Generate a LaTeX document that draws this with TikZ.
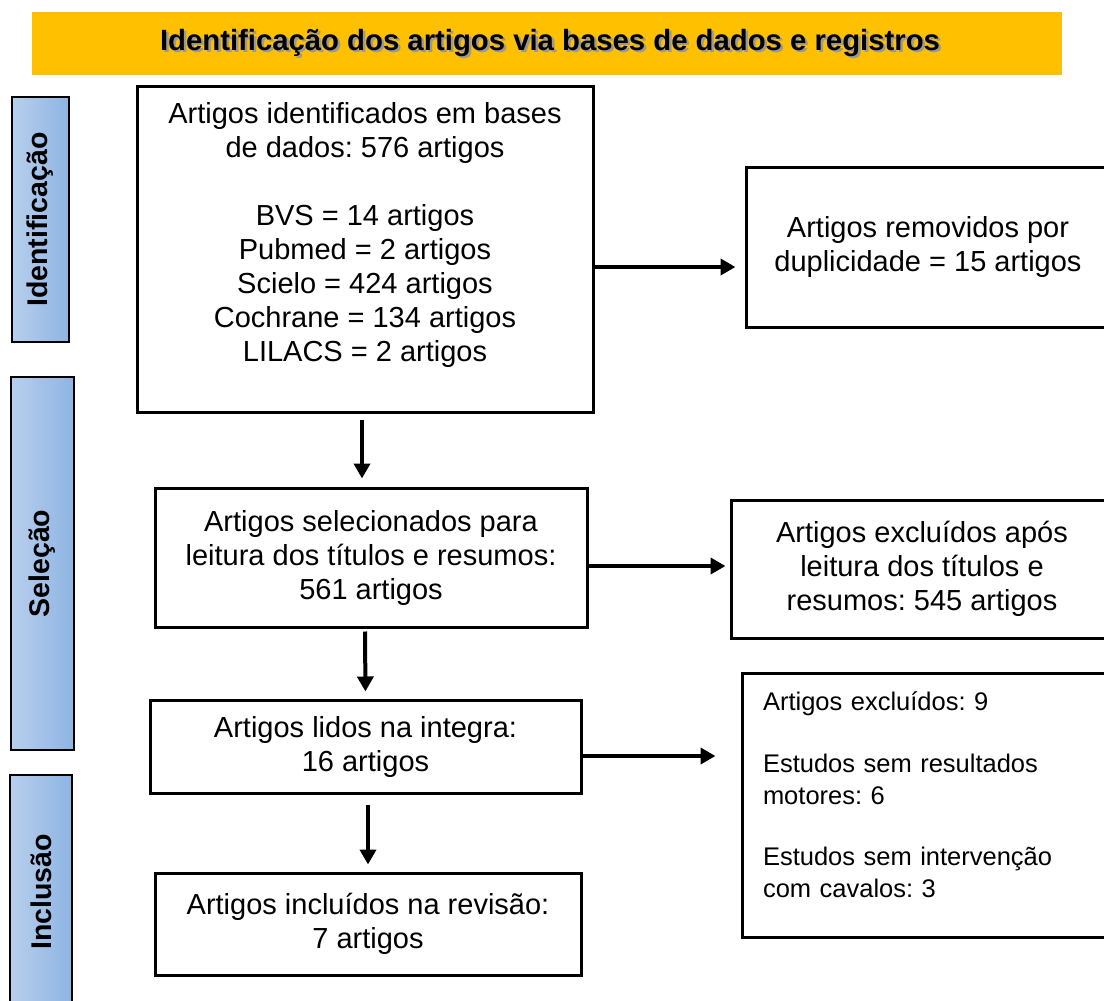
\documentclass[tikz,border=0pt]{standalone}
\usepackage{fontspec}
\setmainfont{Liberation Sans}
\usetikzlibrary{arrows.meta}
\frenchspacing
\definecolor{hdr}{RGB}{255,192,0}
\definecolor{sideL}{RGB}{184,207,236}
\definecolor{sideR}{RGB}{142,180,227}
\newcommand{\shadowtext}[1]{\makebox[0pt][l]{\hspace{2.5pt}\raisebox{-2.5pt}{\textcolor{black!40}{#1}}}#1}
\tikzset{
  box/.style={draw=black, line width=3pt, rectangle, align=center, inner sep=0pt,
    font=\fontsize{29}{34}\selectfont},
  side/.style={draw=black, line width=2pt, left color=sideL, right color=sideR},
  sidetext/.style={rotate=90, font=\bfseries\fontsize{28.5}{34}\selectfont},
  arr/.style={line width=4pt, -{Triangle[length=15pt,width=16pt]}},
}
\begin{document}
\begin{tikzpicture}[x=1pt,y=-1pt]
\frenchspacing
\useasboundingbox (0,0) rectangle (1104,1001);
% header
\node[fill=hdr, minimum width=1030pt, minimum height=63pt, inner sep=0pt] (hdr) at (547,43.5) {};
\node[font=\bfseries\fontsize{29.3}{34}\selectfont] (hdrt) at (550,44) {\shadowtext{Identificação dos artigos via bases de dados e registros}};
% side bars
\node[side, minimum width=57pt, minimum height=245pt, inner sep=0pt] (s1) at (40.5,219.5) {};
\node[sidetext] (s1t) at (s1) {Identificação};
\node[side, minimum width=63pt, minimum height=373pt, inner sep=0pt] (s2) at (42.5,563.5) {};
\node[sidetext] (s2t) at (s2) {Seleção};
\node[side, minimum width=62pt, minimum height=240pt, inner sep=0pt] (s3) at (41,895) {};
\node[sidetext] (s3t) at (41,892) {Inclusão};
% main boxes
\node[box, minimum width=456pt, minimum height=326pt] (b1) at (365,249)
  {Artigos identificados em bases\\ de dados: 576 artigos\\[34pt]
   BVS = 14 artigos\\ Pubmed = 2 artigos\\ Scielo = 424 artigos\\ Cochrane = 134 artigos\\ LILACS = 2 artigos\\ \mbox{}};
\node[box, minimum width=364pt, minimum height=160pt] (b2) at (928,247)
  {Artigos removidos por\\ duplicidade = 15 artigos};
\node[box, minimum width=432pt, minimum height=139pt] (b3) at (371,557.5)
  {Artigos selecionados para\\ leitura dos títulos e resumos:\\ 561 artigos};
\node[box, minimum width=382pt, minimum height=138pt] (b4) at (922,569)
  {Artigos excluídos após\\ leitura dos títulos e\\ resumos: 545 artigos};
\node[box, minimum width=431pt, minimum height=93pt] (b5) at (365.5,746.5)
  {Artigos lidos na integra:\\ 16 artigos};
\node[box, minimum width=380pt, minimum height=264pt, align=left, text width=340pt,
  inner xsep=21pt, font=\fontsize{25.5}{31.5}\selectfont] (b6) at (933,805)
  {Artigos excluídos: 9\\[31pt] Estudos sem resultados\\ motores: 6\\[30pt] Estudos sem intervenção\\ com cavalos: 3\\[-10pt] \mbox{}};
\node[box, minimum width=426pt, minimum height=102pt] (b7) at (368,924)
  {Artigos incluídos na revisão:\\ 7 artigos};
% connectors
\draw[arr] ([yshift=-18pt]b1.east) -- ([yshift=-20pt]b2.west) [shorten >=9pt];
\draw[arr, shorten >=4pt] ([yshift=-8.5pt]b3.east) -- ([yshift=3pt]b4.west);
\draw[arr, shorten >=25pt] ([yshift=-9.5pt]b5.east) -- ([yshift=49pt]b6.west);
\draw[arr, shorten <=6pt, shorten >=8pt] ([xshift=-3pt]b1.south) -- ([xshift=-9pt]b3.north);
\draw[arr, shorten <=3pt, shorten >=7pt] ([xshift=-6pt]b3.south) -- (b5.north);
\draw[arr, shorten <=10pt, shorten >=7pt] ([xshift=2.5pt]b5.south) -- (b7.north);
\end{tikzpicture}
\end{document}
